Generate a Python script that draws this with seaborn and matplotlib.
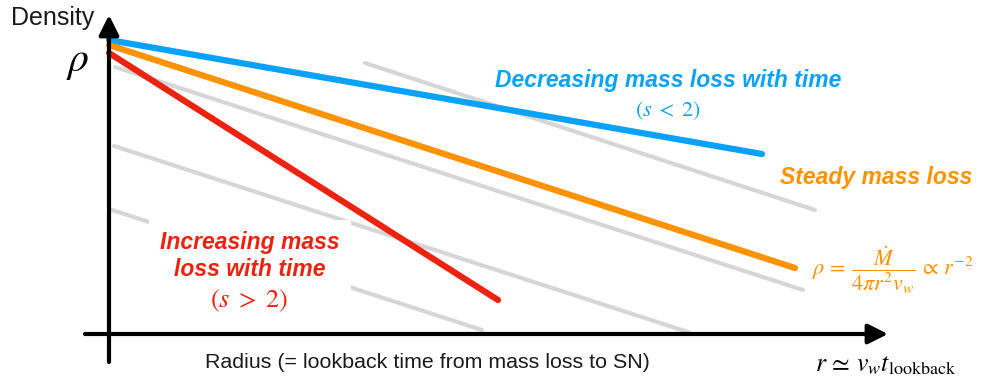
"""
Schematic: wind density profile rho(r) for different mass-loss histories.
"""

import matplotlib.pyplot as plt
import pandas as pd
import seaborn as sns

sns.set_theme(style="white")
plt.rcParams.update({"mathtext.fontset": "stix", "font.family": ["Liberation Sans", "DejaVu Sans"]})

# schematic coordinates: x = radius, y = density (arbitrary units)
blue_x = [0.0, 6.53]
blue_y = [2.94, 1.80]
orange_x = [0.0, 6.86]
orange_y = [2.89, 0.66]
red_x = [0.0, 3.89]
red_y = [2.81, 0.34]

# faint r^-2 guide lines
guide_x0 = [2.56, 0.06, 0.05, 0.03]
guide_y0 = [2.71, 2.67, 1.88, 1.24]
guide_x1 = [7.06, 6.94, 5.79, 3.73]
guide_y1 = [1.24, 0.44, 0.02, 0.04]

BLUE = "#0aa2f7"
ORANGE = "#ff9200"
RED = "#ec2310"
GRAY = "#d6d6d6"

fig = plt.figure(figsize=(9.84, 3.83), dpi=100)
ax = fig.add_axes([0, 0, 1, 1])
ax.set_xlim(-1.09, 8.75)
ax.set_ylim(-0.49, 3.34)
ax.axis("off")

for x0, y0, x1, y1 in zip(guide_x0, guide_y0, guide_x1, guide_y1):
    sns.lineplot(x=[x0, x1], y=[y0, y1], color=GRAY, lw=3, ax=ax, zorder=1)

# text block that masks the guide lines behind it
ax.text(1.41, 0.78, "Increasing mass\nloss with time", color=RED, fontsize=16.5,
        fontweight="bold", fontstyle="italic", ha="center", va="center",
        linespacing=1.2, zorder=2,
        bbox=dict(facecolor="white", edgecolor="none", boxstyle="square,pad=0.5"))

lines = pd.DataFrame({
    "x": blue_x + orange_x + red_x,
    "y": blue_y + orange_y + red_y,
    "case": ["dec"] * 2 + ["steady"] * 2 + ["inc"] * 2,
})
sns.lineplot(data=lines, x="x", y="y", hue="case", units="case", estimator=None,
             palette={"dec": BLUE, "steady": ORANGE, "inc": RED},
             lw=4.5, legend=False, ax=ax, zorder=3)

# axes arrows
arrow = dict(arrowstyle="-|>,head_length=0.6,head_width=0.3", color="black", lw=3,
             mutation_scale=20, shrinkA=0, shrinkB=0)
ax.annotate("", xy=(0, 3.19), xytext=(0, -0.28), arrowprops=arrow, zorder=4)
ax.annotate("", xy=(7.79, 0), xytext=(-0.24, 0), arrowprops=arrow, zorder=4)

ax.text(-0.56, 3.16, "Density", fontsize=18, color="#1a1a1a", ha="center", va="center")
ax.text(-0.31, 2.72, r"$\rho$", fontsize=30, color="black", ha="center", va="center")

ax.text(5.59, 2.54, "Decreasing mass loss with time", color=BLUE, fontsize=16.5,
        fontweight="bold", fontstyle="italic", ha="center", va="center")
ax.text(5.59, 2.23, r"$(s\;<\;2)$", color=BLUE, fontsize=16, ha="center", va="center")

ax.text(7.67, 1.57, "Steady mass loss", color=ORANGE, fontsize=16.5,
        fontweight="bold", fontstyle="italic", ha="center", va="center")
ax.text(7.03, 0.64, r"$\rho\, = \,\dfrac{\dot{M}}{4\pi r^2 v_w}\, \propto \,r^{-2}$",
        color=ORANGE, fontsize=16, ha="left", va="center")

ax.text(1.40, 0.33, r"$(s\;>\;2)$", color=RED, fontsize=19, ha="center", va="center", zorder=2)

ax.text(0.96, -0.28, "Radius (= lookback time from mass loss to SN)", fontsize=15.4,
        color="#1a1a1a", ha="left", va="center")
ax.text(7.06, -0.31, r"$r\, \simeq \,v_w t_\mathrm{lookback}$", fontsize=18.5,
        color="black", ha="left", va="center")

fig.savefig("out.png", dpi=100)
plt.close(fig)
